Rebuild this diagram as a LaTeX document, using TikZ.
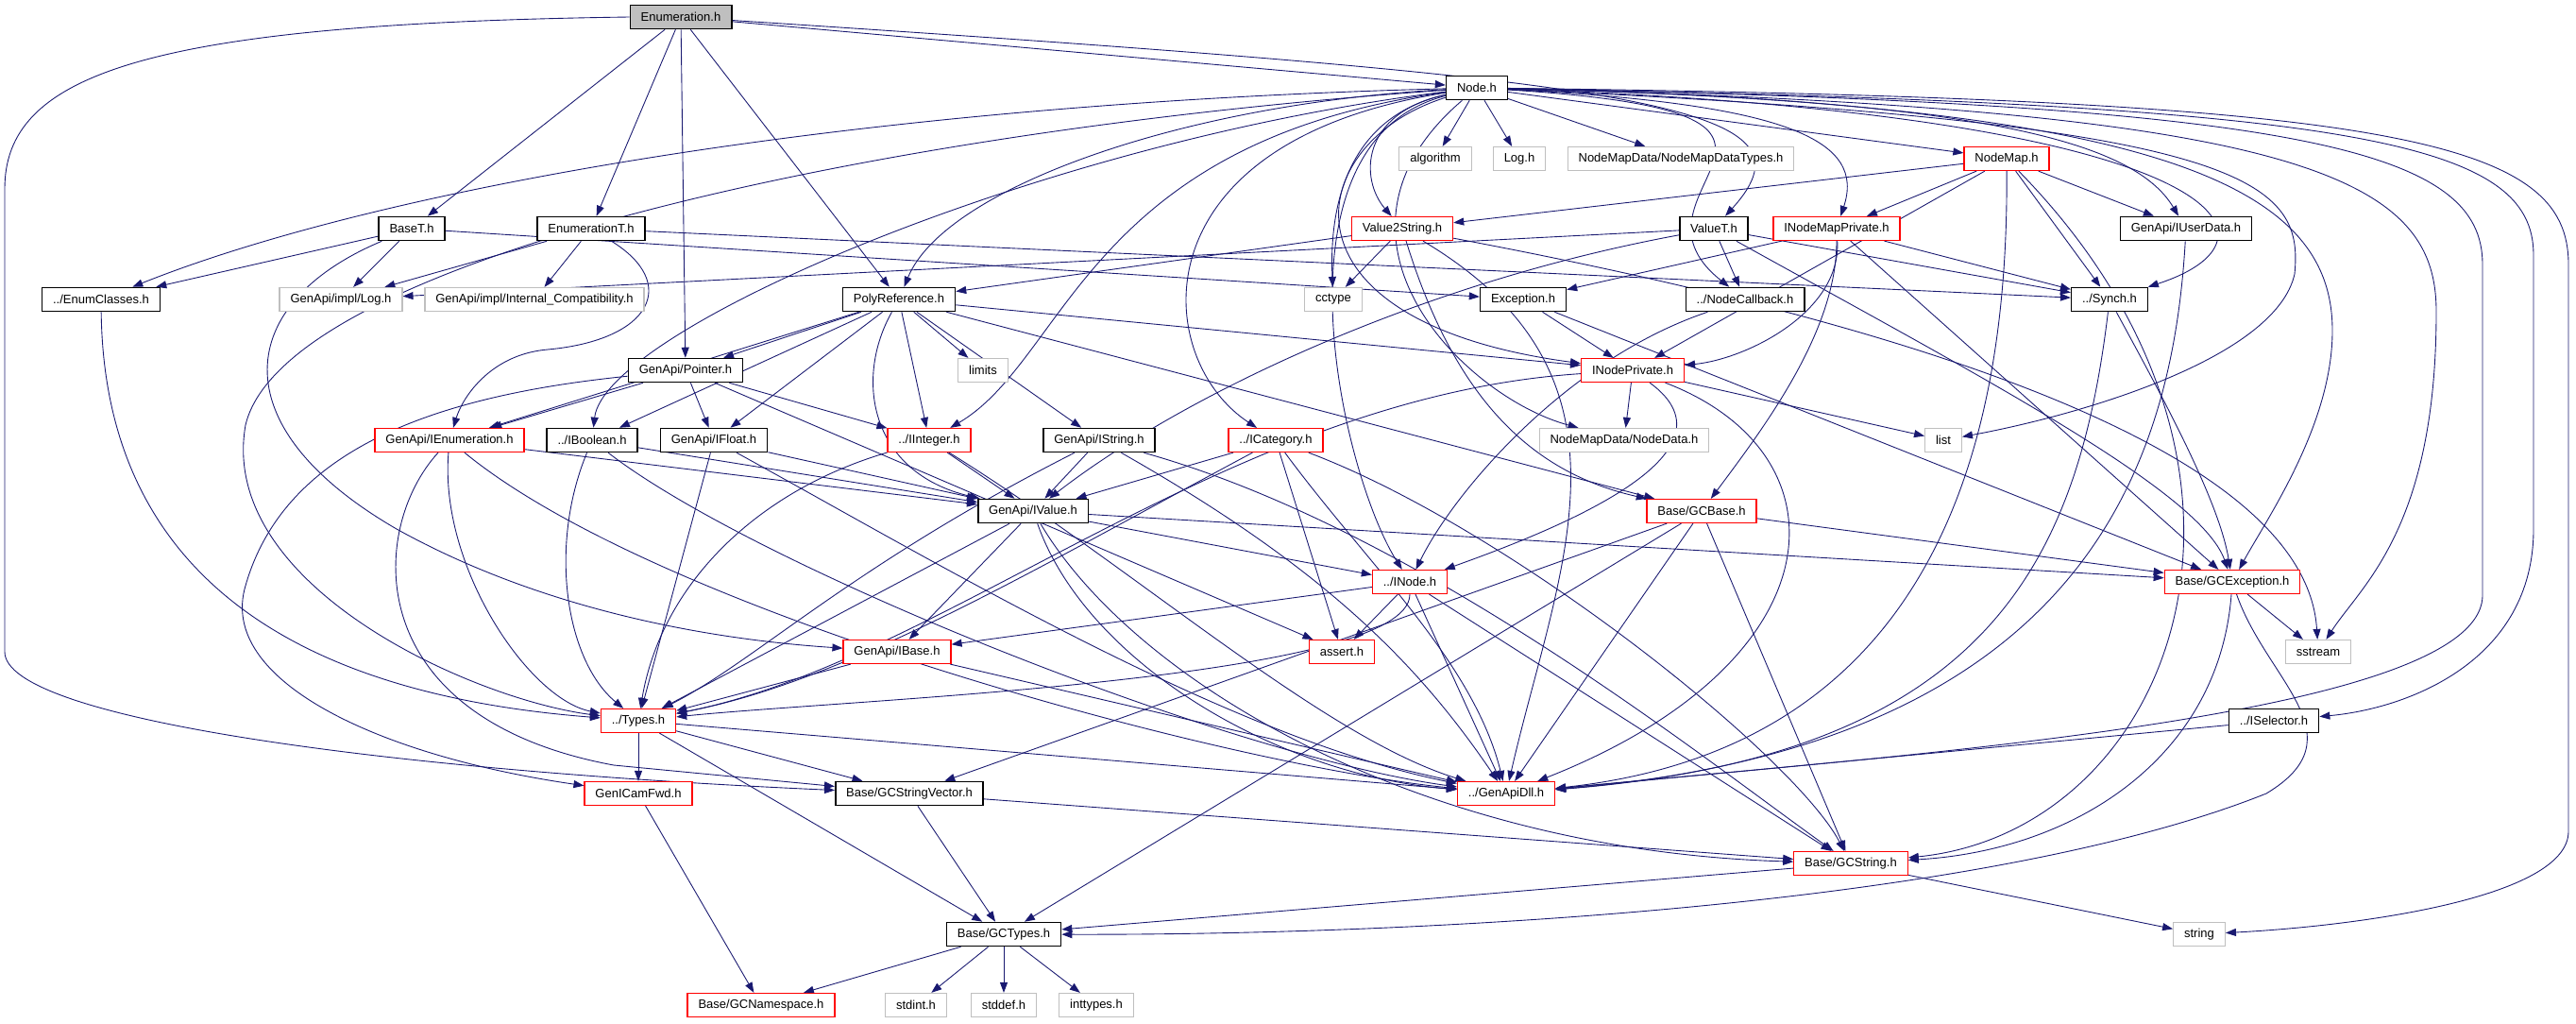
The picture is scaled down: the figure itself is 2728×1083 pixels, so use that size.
\documentclass[tikz,border=0pt]{standalone}
\usepackage{fontspec}
\setmainfont{Liberation Sans}
\usetikzlibrary{arrows.meta,backgrounds}
\definecolor{edgeblue}{HTML}{191970}
\definecolor{sysgray}{HTML}{BFBFBF}
\definecolor{hdrred}{HTML}{FF0000}

\begin{document}
\begin{tikzpicture}[
    x=0.02cm, y=0.02cm,
    hdr/.style={
        draw,
        fill=white,
        line width=0.9pt,
        minimum height=0.5cm,
        inner xsep=6.5pt,
        inner ysep=0pt,
        font=\fontsize{7.4}{8}\selectfont
    },
    redhdr/.style={hdr, draw=hdrred, line width=0.7pt},
    syshdr/.style={hdr, draw=sysgray, line width=0.7pt},
    arrow/.style={-{Triangle[length=0.22cm,width=0.16cm]}, draw=edgeblue, line width=0.5pt}
]
    \useasboundingbox (0,0) rectangle (2728,-1083);

    \node[hdr, fill=sysgray] (enum) at (721,-18) {Enumeration.h};
    \node[hdr] (nodeh) at (1564,-93) {Node.h};
    \node[syshdr] (algo) at (1520,-168) {algorithm};
    \node[syshdr] (log) at (1609,-168) {Log.h};
    \node[syshdr] (nmdtypes) at (1780,-168) {NodeMapData/NodeMapDataTypes.h};
    \node[redhdr] (nodemap) at (2125,-168) {NodeMap.h};
    \node[hdr] (baset) at (436,-242) {BaseT.h};
    \node[hdr] (enumt) at (626,-242) {EnumerationT.h};
    \node[redhdr] (v2s) at (1485,-242) {Value2String.h};
    \node[hdr] (valuet) at (1815,-242) {ValueT.h};
    \node[redhdr] (inmp) at (1945,-242) {INodeMapPrivate.h};
    \node[hdr] (iuser) at (2315,-242) {GenApi/IUserData.h};
    \node[hdr] (eclass) at (107,-317) {../EnumClasses.h};
    \node[syshdr] (ilog) at (361,-317) {GenApi/impl/Log.h};
    \node[syshdr] (icompat) at (566,-317) {GenApi/impl/Internal\_Compatibility.h};
    \node[hdr] (polyref) at (952,-317) {PolyReference.h};
    \node[syshdr] (cctype) at (1412,-317) {cctype};
    \node[hdr] (exc) at (1613,-317) {Exception.h};
    \node[hdr] (ncb) at (1848,-317) {../NodeCallback.h};
    \node[hdr] (synch) at (2234,-317) {../Synch.h};
    \node[hdr] (pointer) at (726,-392) {GenApi/Pointer.h};
    \node[syshdr] (limits) at (1041,-392) {limits};
    \node[redhdr] (inp) at (1729,-392) {INodePrivate.h};
    \node[redhdr] (ienum) at (476,-466) {GenApi/IEnumeration.h};
    \node[hdr] (ibool) at (627,-466) {../IBoolean.h};
    \node[hdr] (ifloat) at (756,-466) {GenApi/IFloat.h};
    \node[redhdr] (iint) at (984,-466) {../IInteger.h};
    \node[hdr] (istring) at (1164,-466) {GenApi/IString.h};
    \node[redhdr] (icat) at (1351,-466) {../ICategory.h};
    \node[syshdr] (ndata) at (1720,-466) {NodeMapData/NodeData.h};
    \node[syshdr] (list) at (2058,-466) {list};
    \node[hdr] (ivalue) at (1094,-541) {GenApi/IValue.h};
    \node[redhdr] (gcbase) at (1802,-541) {Base/GCBase.h};
    \node[redhdr] (inode) at (1493,-616) {../INode.h};
    \node[redhdr] (gcexc) at (2364,-616) {Base/GCException.h};
    \node[redhdr] (ibase) at (950,-690) {GenApi/IBase.h};
    \node[redhdr] (assert) at (1421,-690) {assert.h};
    \node[syshdr] (sstream) at (2455,-690) {sstream};
    \node[redhdr] (types) at (676,-763) {../Types.h};
    \node[hdr] (isel) at (2408,-763) {../ISelector.h};
    \node[redhdr] (fwd) at (676,-840) {GenICamFwd.h};
    \node[hdr] (gcsv) at (963,-840) {Base/GCStringVector.h};
    \node[redhdr] (dll) at (1595,-840) {../GenApiDll.h};
    \node[redhdr] (gcstr) at (1960,-914) {Base/GCString.h};
    \node[hdr] (gctypes) at (1063,-989) {Base/GCTypes.h};
    \node[syshdr] (string) at (2329,-989) {string};
    \node[redhdr] (gcns) at (806,-1064) {Base/GCNamespace.h};
    \node[syshdr] (stdint) at (970,-1064) {stdint.h};
    \node[syshdr] (stddef) at (1063,-1064) {stddef.h};
    \node[syshdr] (inttypes) at (1161,-1064) {inttypes.h};

    \begin{pgfonlayer}{background}
    \draw[arrow] (enum) -- (nodeh);
    \draw[arrow] (enum) -- (baset);
    \draw[arrow] (enum) -- (enumt);
    \draw[arrow] (enum) -- (pointer);
    \draw[arrow] (enum) -- (polyref);
    \draw[arrow] (enum) .. controls (1750,-85) and (1935,-110) .. (valuet);
    \draw[arrow] (enum.west) .. controls (150,-25) and (5,-80) .. (5,-200) -- (5,-690) .. controls (5,-760) and (400,-815) .. (gcsv);

    \draw[arrow] (nodeh) -- (algo);
    \draw[arrow] (nodeh) -- (log);
    \draw[arrow] (nodeh) -- (nmdtypes);
    \draw[arrow] (nodeh) -- (nodemap);
    \draw[arrow] (nodeh) .. controls (1440,-120) and (1440,-190) .. (v2s);
    \draw[arrow] (nodeh) .. controls (1900,-110) and (1975,-150) .. (inmp);
    \draw[arrow] (nodeh) .. controls (2100,-105) and (2260,-150) .. (iuser);
    \draw[arrow] (nodeh) .. controls (900,-110) and (400,-200) .. (eclass);
    \draw[arrow] (nodeh) .. controls (1420,-125) and (1408,-230) .. (cctype);
    \draw[arrow] (nodeh) .. controls (1250,-110) and (1000,-200) .. (polyref);
    \draw[arrow] (nodeh) .. controls (2000,-120) and (1700,-200) .. (ncb);
    \draw[arrow] (nodeh) .. controls (2350,-120) and (2440,-250) .. (synch);
    \draw[arrow] (nodeh) .. controls (1380,-150) and (1340,-340) .. (inp);
    \draw[arrow] (nodeh) .. controls (1100,-150) and (640,-350) .. (ibool);
    \draw[arrow] (nodeh) .. controls (1150,-150) and (1130,-380) .. (iint);
    \draw[arrow] (nodeh) .. controls (1200,-150) and (1220,-380) .. (icat);
    \draw[arrow] (nodeh) .. controls (1380,-250) and (1550,-420) .. (ndata);
    \draw[arrow] (nodeh) .. controls (2380,-130) and (2440,-190) .. (2430,-290) .. controls (2410,-380) and (2200,-440) .. (list);
    \draw[arrow] (nodeh) .. controls (1340,-150) and (1420,-500) .. (inode);
    \draw[arrow] (nodeh) .. controls (2300,-110) and (2470,-200) .. (2470,-350) .. controls (2470,-450) and (2400,-550) .. (gcexc);
    \draw[arrow] (nodeh) .. controls (2450,-115) and (2580,-190) .. (2580,-330) .. controls (2580,-560) and (2500,-620) .. (sstream);
    \draw[arrow] (nodeh) .. controls (2500,-110) and (2683,-150) .. (2683,-270) -- (2683,-560) .. controls (2683,-700) and (2550,-750) .. (isel);
    \draw[arrow] (nodeh) .. controls (2550,-105) and (2720,-150) .. (2720,-280) -- (2720,-880) .. controls (2720,-950) and (2500,-980) .. (string);
    \draw[arrow] (nodeh) .. controls (2450,-110) and (2629,-160) .. (2629,-280) -- (2629,-630) .. controls (2629,-760) and (2000,-800) .. (dll);
    \draw[arrow] (nodeh) .. controls (900,-140) and (300,-280) .. (260,-450) .. controls (230,-620) and (500,-740) .. (types);

    \draw[arrow] (nodemap) -- (v2s);
    \draw[arrow] (nodemap) -- (inmp);
    \draw[arrow] (nodemap) -- (iuser);
    \draw[arrow] (nodemap) -- (synch);
    \draw[arrow] (nodemap) -- (inp);
    \draw[arrow] (nodemap) .. controls (2127,-450) and (2060,-790) .. (dll);
    \draw[arrow] (nodemap) .. controls (2450,-500) and (2300,-880) .. (gcstr);

    \draw[arrow] (v2s) -- (cctype);
    \draw[arrow] (v2s) -- (polyref);
    \draw[arrow] (v2s) .. controls (1540,-420) and (1620,-500) .. (gcbase);
    \draw[arrow] (v2s) .. controls (1900,-320) and (2440,-450) .. (sstream);
    \draw[arrow] (v2s) .. controls (1750,-400) and (1650,-600) .. (dll);

    \draw[arrow] (valuet) -- (ilog);
    \draw[arrow] (valuet) -- (ncb);
    \draw[arrow] (valuet) -- (synch);
    \draw[arrow] (valuet) .. controls (2100,-400) and (2330,-520) .. (gcexc);
    \draw[arrow] (valuet) .. controls (1500,-300) and (1250,-420) .. (ivalue);

    \draw[arrow] (inmp) -- (exc);
    \draw[arrow] (inmp) -- (synch);
    \draw[arrow] (inmp) .. controls (1950,-330) and (1850,-380) .. (inp);
    \draw[arrow] (inmp) .. controls (1945,-350) and (1870,-450) .. (gcbase);
    \draw[arrow] (inmp) -- (gcexc);

    \draw[arrow] (iuser) .. controls (2300,-500) and (2200,-790) .. (dll);

    \draw[arrow] (baset) -- (eclass);
    \draw[arrow] (baset) -- (ilog);
    \draw[arrow] (baset) -- (exc);
    \draw[arrow] (baset) .. controls (250,-320) and (230,-450) .. (420,-560) .. controls (600,-660) and (800,-680) .. (ibase);

    \draw[arrow] (enumt) -- (ilog);
    \draw[arrow] (enumt) -- (icompat);
    \draw[arrow] (enumt) -- (synch);
    \draw[arrow] (enumt) .. controls (720,-300) and (690,-360) .. (580,-370) .. controls (520,-375) and (490,-420) .. (ienum);

    \draw[arrow] (eclass) .. controls (110,-560) and (250,-730) .. (types);

    \draw[arrow] (polyref) -- (pointer);
    \draw[arrow] (polyref) -- (limits);
    \draw[arrow] (polyref) -- (iint);
    \draw[arrow] (polyref) -- (ifloat);
    \draw[arrow] (polyref) -- (istring);
    \draw[arrow] (polyref) -- (ienum);
    \draw[arrow] (polyref) -- (ibool);
    \draw[arrow] (polyref) .. controls (905,-400) and (920,-500) .. (ivalue);
    \draw[arrow] (polyref) -- (inp);
    \draw[arrow] (polyref) -- (gcbase);

    \draw[arrow] (exc) -- (inp);
    \draw[arrow] (exc) -- (gcexc);

    \draw[arrow] (ncb) .. controls (1660,-380) and (1540,-520) .. (inode);

    \draw[arrow] (synch) .. controls (2290,-420) and (2350,-530) .. (gcexc);
    \draw[arrow] (synch) .. controls (2200,-600) and (2100,-800) .. (dll);

    \draw[arrow] (pointer) -- (ienum);
    \draw[arrow] (pointer) -- (ifloat);
    \draw[arrow] (pointer) -- (iint);
    \draw[arrow] (pointer) -- (assert);
    \draw[arrow] (pointer) .. controls (450,-420) and (300,-480) .. (260,-620) .. controls (230,-720) and (400,-800) .. (fwd);

    \draw[arrow] (ienum) .. controls (465,-600) and (560,-740) .. (types);
    \draw[arrow] (ienum) -- (ivalue);
    \draw[arrow] (ienum) .. controls (700,-650) and (1300,-810) .. (dll);
    \draw[arrow] (ienum) .. controls (390,-560) and (380,-760) .. (650,-810) -- (gcsv);

    \draw[arrow] (ibool) -- (ivalue);
    \draw[arrow] (ibool) .. controls (580,-580) and (600,-700) .. (types);
    \draw[arrow] (ibool) .. controls (800,-600) and (1300,-800) .. (dll);

    \draw[arrow] (ifloat) -- (ivalue);
    \draw[arrow] (ifloat) -- (types);
    \draw[arrow] (ifloat) .. controls (1000,-600) and (1300,-780) .. (dll);

    \draw[arrow] (iint) -- (ivalue);
    \draw[arrow] (iint) .. controls (800,-520) and (700,-620) .. (types);
    \draw[arrow] (iint) .. controls (1200,-600) and (1400,-780) .. (dll);

    \draw[arrow] (istring) -- (ivalue);
    \draw[arrow] (istring) .. controls (900,-600) and (800,-700) .. (types);
    \draw[arrow] (istring) .. controls (1400,-600) and (1500,-700) .. (dll);
    \draw[arrow] (istring) .. controls (1500,-560) and (1800,-800) .. (gcstr);

    \draw[arrow] (icat) -- (ivalue);
    \draw[arrow] (icat) .. controls (1100,-600) and (900,-720) .. (types);
    \draw[arrow] (icat) -- (assert);
    \draw[arrow] (icat) .. controls (1450,-600) and (1560,-700) .. (dll);
    \draw[arrow] (icat) .. controls (1600,-560) and (1900,-800) .. (gcstr);

    \draw[arrow] (inp) -- (ndata);
    \draw[arrow] (inp) -- (list);
    \draw[arrow] (inp) .. controls (1850,-480) and (1650,-560) .. (inode);
    \draw[arrow] (inp) .. controls (1300,-420) and (1000,-700) .. (types);
    \draw[arrow] (inp) .. controls (1960,-480) and (1950,-700) .. (dll);

    \draw[arrow] (ivalue) -- (inode);
    \draw[arrow] (ivalue) -- (ibase);
    \draw[arrow] (ivalue) -- (types);
    \draw[arrow] (ivalue) .. controls (1150,-700) and (1350,-820) .. (dll);
    \draw[arrow] (ivalue) -- (gcexc);
    \draw[arrow] (ivalue) .. controls (1200,-720) and (1500,-900) .. (gcstr);

    \draw[arrow] (gcbase) -- (gcexc);
    \draw[arrow] (gcbase) -- (gcstr);
    \draw[arrow] (gcbase) -- (gcsv);
    \draw[arrow] (gcbase) -- (gctypes);
    \draw[arrow] (gcbase) -- (dll);

    \draw[arrow] (inode) -- (assert);
    \draw[arrow] (inode) -- (dll);
    \draw[arrow] (inode) -- (gcstr);
    \draw[arrow] (inode) -- (ibase);
    \draw[arrow] (inode) .. controls (1493,-720) and (900,-740) .. (types);

    \draw[arrow] (gcexc) -- (sstream);
    \draw[arrow] (gcexc) .. controls (2350,-800) and (2200,-900) .. (gcstr);
    \draw[arrow] (gcexc) .. controls (2400,-720) and (2500,-780) .. (2400,-840) .. controls (2100,-960) and (1500,-990) .. (gctypes);

    \draw[arrow] (ibase) -- (types);
    \draw[arrow] (ibase) -- (dll);
    \draw[arrow] (isel) -- (dll);

    \draw[arrow] (types) -- (fwd);
    \draw[arrow] (types) -- (gcsv);
    \draw[arrow] (types) -- (gctypes);
    \draw[arrow] (types) -- (dll);

    \draw[arrow] (fwd) -- (gcns);
    \draw[arrow] (gcsv) -- (gctypes);
    \draw[arrow] (gcsv) -- (gcstr);
    \draw[arrow] (gcstr) -- (gctypes);
    \draw[arrow] (gcstr) -- (string);

    \draw[arrow] (gctypes) -- (gcns);
    \draw[arrow] (gctypes) -- (stdint);
    \draw[arrow] (gctypes) -- (stddef);
    \draw[arrow] (gctypes) -- (inttypes);
    \end{pgfonlayer}
\end{tikzpicture}
\end{document}
